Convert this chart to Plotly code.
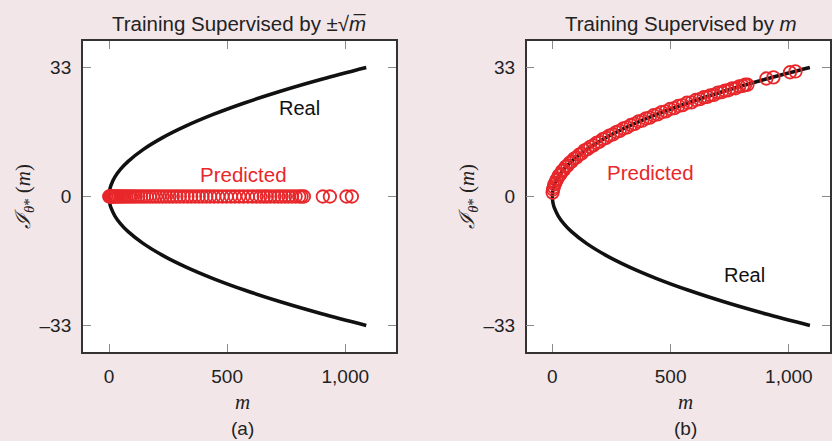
import plotly.graph_objects as go

# ---- data ----
real_y = [-33, -30, -27, -24, -21, -18, -15, -12, -9, -7, -5, -3, -2, -1, 0,
          1, 2, 3, 5, 7, 9, 12, 15, 18, 21, 24, 27, 30, 33]
real_m = [1089, 900, 729, 576, 441, 324, 225, 144, 81, 49, 25, 9, 4, 1, 0,
          1, 4, 9, 25, 49, 81, 144, 225, 324, 441, 576, 729, 900, 1089]

pred_m = [1, 3, 6, 9, 13, 17, 22, 28, 34, 41, 48, 56, 64, 73, 82, 92, 102, 113,
          124, 136, 148, 160, 173, 186, 199, 213, 227, 241, 256, 270, 285, 300,
          316, 332, 348, 364, 380, 396, 412, 428, 445, 462, 480, 498, 516, 533,
          551, 569, 588, 606, 624, 640, 655, 668, 683, 700, 716, 730, 745, 760,
          775, 790, 805, 815, 825, 905, 935, 1005, 1028]
pred_a = [0.0] * len(pred_m)
pred_b = [1.0, 1.8, 2.4, 3.1, 3.5, 4.2, 4.6, 5.4, 5.7, 6.5, 6.8, 7.6, 7.9, 8.6,
          9.0, 9.7, 10.0, 10.7, 11.0, 11.8, 12.1, 12.7, 13.1, 13.7, 14.0, 14.7,
          15.0, 15.6, 15.9, 16.5, 16.8, 17.4, 17.7, 18.3, 18.6, 19.2, 19.4, 20.0,
          20.2, 20.8, 21.0, 21.6, 21.8, 22.4, 22.6, 23.2, 23.4, 24.0, 24.1, 24.7,
          24.9, 25.4, 25.5, 25.9, 26.0, 26.6, 26.7, 27.1, 27.2, 27.7, 27.7, 28.2,
          28.3, 28.6, 28.6, 30.2, 30.5, 31.8, 32.0]

x_tickvals = [0, 500, 1000]
x_ticktext = ["0", "500", "1,000"]
y_tickvals = [-33, 0, 33]
y_ticktext = ["\u201333", "0", "33"]

RED = "#e8272b"
BG = "#f3e6e9"
SANS = "Liberation Sans, Arial, sans-serif"
SERIF = "Liberation Serif, Times New Roman, serif"

fig = go.Figure()

for xa, ya, pred in (("x", "y", pred_a), ("x2", "y2", pred_b)):
    fig.add_trace(go.Scatter(x=real_m, y=real_y, mode="lines", xaxis=xa, yaxis=ya,
                             line=dict(color="#111111", width=3.5, shape="spline"),
                             showlegend=False, hoverinfo="skip"))
    fig.add_trace(go.Scatter(x=pred_m, y=pred, mode="markers", xaxis=xa, yaxis=ya,
                             marker=dict(symbol="circle-open", size=12.5, color=RED,
                                         line=dict(width=1.8, color=RED)),
                             showlegend=False))

W, H = 832, 441
ytop, ybot = 41, 352
dom_y = [(H - ybot) / H, (H - ytop) / H]

axis_common = dict(showgrid=False, zeroline=False, showline=True, linecolor="#333333",
                   linewidth=1.5, mirror="ticks", ticks="inside", ticklen=8,
                   tickwidth=1.3, tickcolor="#8a8a8a",
                   tickfont=dict(family=SANS, size=19, color="#222222"),
                   ticklabelstandoff=6)

fig.update_layout(
    width=W, height=H, autosize=False,
    margin=dict(l=0, r=0, t=0, b=0),
    paper_bgcolor=BG, plot_bgcolor="white",
    xaxis=dict(domain=[83 / W, 397 / W], range=[-111, 1215], anchor="y",
               tickvals=x_tickvals, ticktext=x_ticktext, **axis_common),
    yaxis=dict(domain=dom_y, range=[-39.8, 39.8], anchor="x",
               tickvals=y_tickvals, ticktext=y_ticktext, **axis_common),
    xaxis2=dict(domain=[528 / W, 1.0], range=[-108.4, 1174], anchor="y2",
                tickvals=x_tickvals, ticktext=x_ticktext, **axis_common),
    yaxis2=dict(domain=dom_y, range=[-39.8, 39.8], anchor="x2",
                tickvals=y_tickvals, ticktext=y_ticktext, **axis_common),
)

def px(x):
    return x / W

def py(y):
    return (H - y) / H

ann = []
# titles
ann.append(dict(x=px(240), y=py(23), text="Training Supervised by \u00b1\u221a<i>m\u0305</i>",
                font=dict(family=SANS, size=20.5, color="#222222")))
ann.append(dict(x=px(683), y=py(23), text="Training Supervised by <i>m</i>",
                font=dict(family=SANS, size=20.5, color="#222222")))
# x-axis titles and panel labels
for cx, lab in ((243, "(a)"), (687, "(b)")):
    ann.append(dict(x=px(cx), y=py(402), text="<i>m</i>",
                    font=dict(family=SERIF, size=21, color="#222222")))
    ann.append(dict(x=px(cx), y=py(428), text=lab,
                    font=dict(family=SANS, size=19, color="#222222")))
# y-axis titles
for cx in (24, 469):
    ann.append(dict(x=px(cx), y=py(196), text="<i>\u2110</i><sub><i>\u03b8</i>*</sub> (<i>m</i>)",
                    textangle=-90, font=dict(family=SERIF, size=21, color="#222222")))
# in-plot labels
ann.append(dict(x=px(300), y=py(108), text="Real", font=dict(family=SANS, size=20, color="#111111")))
ann.append(dict(x=px(244), y=py(174), text="Predicted", font=dict(family=SANS, size=20.5, color=RED)))
ann.append(dict(x=px(652), y=py(172), text="Predicted", font=dict(family=SANS, size=20.5, color=RED)))
ann.append(dict(x=px(746), y=py(275), text="Real", font=dict(family=SANS, size=20, color="#111111")))

for a in ann:
    a.update(xref="paper", yref="paper", showarrow=False, xanchor="center", yanchor="middle")
fig.update_layout(annotations=ann)

fig.write_html("out.html", config={"displayModeBar": False},
               post_script="document.body.style.margin='0';document.body.style.overflow='hidden';")
